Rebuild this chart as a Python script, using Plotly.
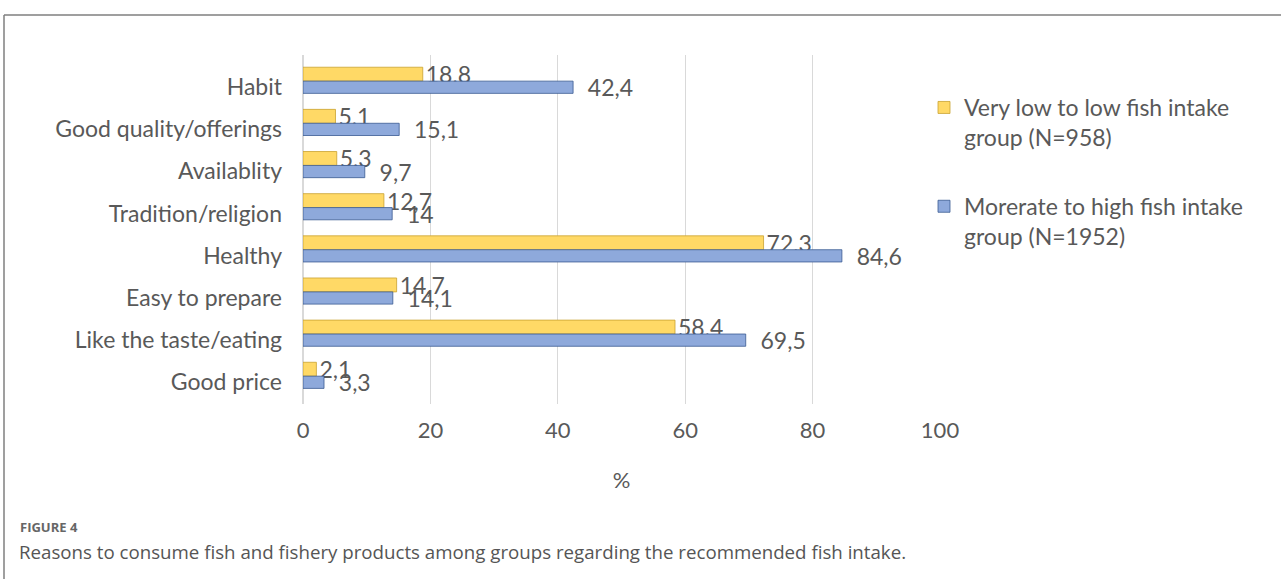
import plotly.graph_objects as go

categories = ["Habit", "Good quality/offerings", "Availablity", "Tradition/religion",
              "Healthy", "Easy to prepare", "Like the taste/eating", "Good price"]
low_group = [18.8, 5.1, 5.3, 12.7, 72.3, 14.7, 58.4, 2.1]
high_group = [42.4, 15.1, 9.7, 14, 84.6, 14.1, 69.5, 3.3]
low_name = "Very low to low fish intake<br>group (N=958)"
high_name = "Morerate to high fish intake<br>group (N=1952)"
x_ticks = [0, 20, 40, 60, 80, 100]


def fmt(v):
    return str(v).replace(".", ",")


FONT = "Lato, 'Open Sans', sans-serif"
TXT = "#595959"
FS = 23

W, H = 1281, 579
L, R, T, B = 303, 1281 - 940, 55, 579 - 404
pw, ph = W - L - R, H - T - B


def px_x(x):
    return (x - L) / pw


def px_y(y):
    return (H - B - y) / ph


fig = go.Figure()
fig.add_trace(go.Bar(
    y=categories, x=low_group, orientation="h", name=low_name,
    marker=dict(color="#FFD966", line=dict(color="#C9A230", width=0.8)),
    width=0.33, offset=-0.47,
    text=[fmt(v) for v in low_group], textposition="outside", constraintext="none",
    textfont=dict(family=FONT, size=FS, color=TXT), cliponaxis=False,
    legendgroup="a",
))
fig.add_trace(go.Bar(
    y=categories, x=high_group, orientation="h", name=high_name,
    marker=dict(color="#8EA9DB", line=dict(color="#3A5A92", width=0.8)),
    width=0.29, offset=-0.14,
    text=["  " + fmt(v) for v in high_group], textposition="outside", constraintext="none",
    textfont=dict(family=FONT, size=FS, color=TXT), cliponaxis=False,
    legendgroup="b",
))

fig.update_layout(
    width=W, height=H,
    margin=dict(l=L, r=R, t=T, b=B, autoexpand=False),
    paper_bgcolor="white", plot_bgcolor="white",
    barmode="overlay",
    font=dict(family=FONT, color=TXT, size=FS),
    showlegend=True,
    legend=dict(x=px_x(924), y=px_y(86), xanchor="left", yanchor="top",
                font=dict(family=FONT, size=FS, color=TXT),
                traceorder="grouped", tracegroupgap=36, valign="top",
                itemwidth=30, bgcolor="rgba(0,0,0,0)"),
    xaxis=dict(range=[0, 100], tickvals=x_ticks, ticktext=[str(t) for t in x_ticks],
               showgrid=True, gridcolor="#D9D9D9", gridwidth=1,
               zeroline=True, zerolinecolor="#D9D9D9", showline=False,
               ticks="outside", ticklen=7, tickcolor="rgba(0,0,0,0)",
               tickfont=dict(family=FONT, size=FS - 1, color=TXT),
               title=dict(text="%", font=dict(family=FONT, size=FS - 1, color=TXT), standoff=30)),
    yaxis=dict(categoryorder="array", categoryarray=categories,
               range=[7.52, -0.76], showgrid=False, zeroline=False,
               showline=False, ticks="", ticklabelstandoff=20,
               tickfont=dict(family=FONT, size=FS, color=TXT)),
    shapes=[
        dict(type="line", xref="paper", yref="paper",
             x0=px_x(4), x1=px_x(1285), y0=px_y(15), y1=px_y(15),
             line=dict(color="#7F7F7F", width=1.5)),
        dict(type="line", xref="paper", yref="paper",
             x0=px_x(4), x1=px_x(4), y0=px_y(15), y1=px_y(585),
             line=dict(color="#7F7F7F", width=1.5)),
    ],
    annotations=[
        dict(text="<b>FIGURE 4</b>", xref="paper", yref="paper",
             x=px_x(18), y=px_y(527), xanchor="left", yanchor="middle",
             showarrow=False, font=dict(family="'Open Sans', sans-serif", size=13, color="#666666")),
        dict(text="Reasons to consume fish and fishery products among groups regarding the recommended fish intake.",
             xref="paper", yref="paper", x=px_x(17), y=px_y(551),
             xanchor="left", yanchor="middle", showarrow=False,
             font=dict(family="'Open Sans', sans-serif", size=18.7, color="#555555")),
    ],
)

fig.write_html("out.html", config={"displayModeBar": False},
               post_script="document.body.style.margin='0';")
